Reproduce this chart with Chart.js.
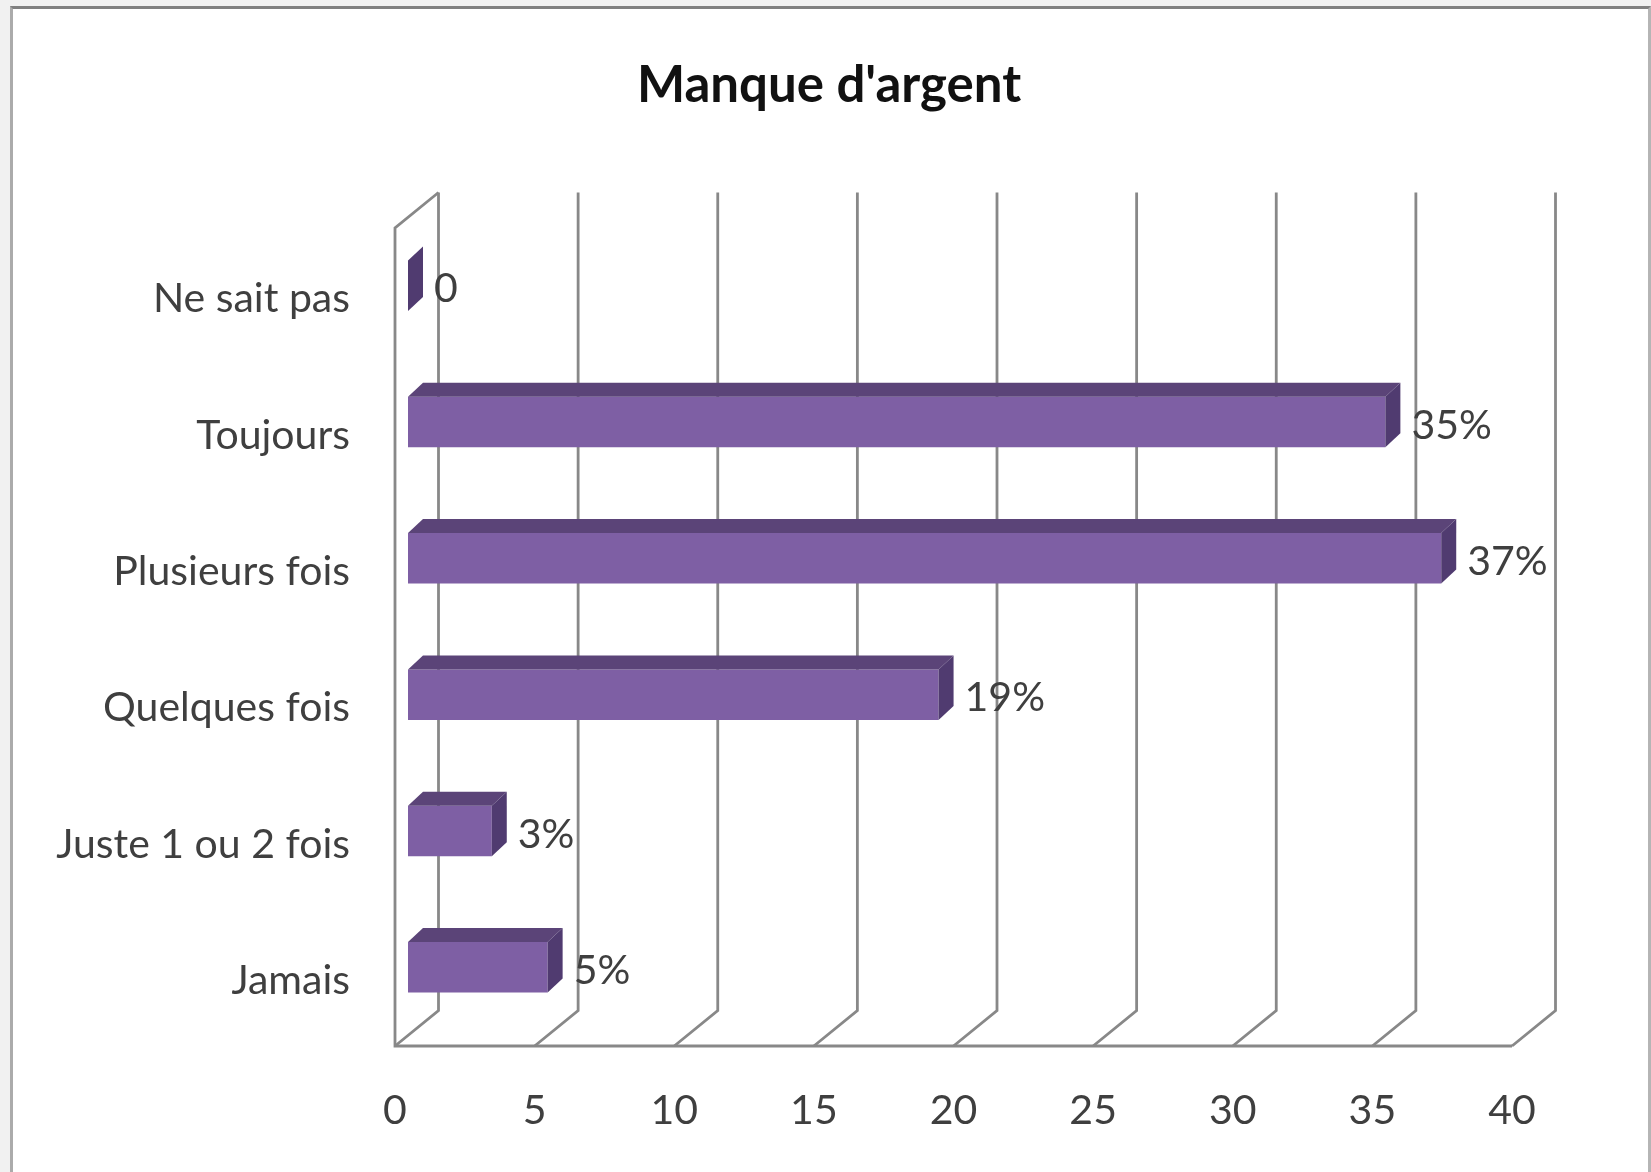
<!DOCTYPE html>
<html>
<head>
<meta charset="utf-8">
<title>Manque d'argent</title>
<script src="https://cdn.jsdelivr.net/npm/chart.js@4"></script>
<style>
  html, body { margin: 0; padding: 0; background: #f1f1f1; overflow: hidden; }
  #frame {
    position: absolute; left: 10px; top: 6px; width: 1635px; height: 1172px;
    background: #fff;
    border-top: 3px solid #808080;
    border-left: 3px solid #ababab;
    border-right: 3px solid #b5b5b5;
  }
  #chart { position: absolute; left: 0; top: 0; filter: blur(0.7px); }
</style>
</head>
<body>
<div id="frame"></div>
<canvas id="chart" width="1651" height="1172"></canvas>
<script>
const categories = ["Ne sait pas", "Toujours", "Plusieurs fois", "Quelques fois", "Juste 1 ou 2 fois", "Jamais"];
const values = [0, 35, 37, 19, 3, 5];
const valueLabels = ["0", "35%", "37%", "19%", "3%", "5%"];
const xTickMax = 40;
const xTickStep = 5;

const FONT = "Lato, 'Open Sans', sans-serif";
const TEXT = "#3f3f3f";
const WALL = "#888888";
// 3d look: wall depth and how far the bars sit inside it
const wallDx = 43.5, wallDy = 35.5;
const barDx = 13, barDy = 10.5;
const faceDx = 15, faceDy = 14;

function line(ctx, pts) {
  ctx.beginPath();
  pts.forEach((p, i) => i ? ctx.lineTo(p[0], p[1]) : ctx.moveTo(p[0], p[1]));
  ctx.stroke();
}

function poly(ctx, pts, color) {
  ctx.fillStyle = color;
  ctx.beginPath();
  pts.forEach((p, i) => i ? ctx.lineTo(p[0], p[1]) : ctx.moveTo(p[0], p[1]));
  ctx.closePath();
  ctx.fill();
}

const bars3d = {
  id: "bars3d",
  beforeDatasetsDraw(chart) {
    const ctx = chart.ctx;
    const area = chart.chartArea;
    const x = chart.scales.x;
    ctx.save();
    ctx.strokeStyle = WALL;
    ctx.lineWidth = 2.8;
    ctx.lineJoin = "miter";
    // side wall
    line(ctx, [[area.left + wallDx, area.top - wallDy], [area.left, area.top], [area.left, area.bottom], [area.right, area.bottom]]);
    // grid lines on the back wall and floor
    x.ticks.forEach(t => {
      const px = x.getPixelForValue(t.value);
      line(ctx, [[px + wallDx, area.top - wallDy], [px + wallDx, area.bottom - wallDy], [px, area.bottom]]);
    });
    ctx.restore();
    ctx.save();
    ctx.translate(barDx, -barDy);
  },
  afterDatasetsDraw(chart) {
    const ctx = chart.ctx;
    const bars = chart.getDatasetMeta(0).data;
    bars.forEach(b => {
      const top = b.y - b.height / 2, bottom = b.y + b.height / 2;
      poly(ctx, [[b.base, top], [b.base + faceDx, top - faceDy], [b.x + faceDx, top - faceDy], [b.x, top]], "#5b4478");
      poly(ctx, [[b.x, top], [b.x + faceDx, top - faceDy], [b.x + faceDx, bottom - faceDy], [b.x, bottom]], "#503b70");
    });
    ctx.restore();
    ctx.save();
    ctx.font = "41px " + FONT;
    ctx.fillStyle = TEXT;
    ctx.textAlign = "left";
    ctx.textBaseline = "middle";
    bars.forEach((b, i) => {
      ctx.fillText(valueLabels[i], b.x + barDx + faceDx + 11, b.y - 7);
    });
    ctx.restore();
  }
};

new Chart(document.getElementById("chart"), {
  type: "bar",
  data: {
    labels: categories,
    datasets: [{
      data: values,
      backgroundColor: "#7e5fa4",
      borderWidth: 0,
      barPercentage: 0.37,
      categoryPercentage: 1,
      clip: false
    }]
  },
  plugins: [bars3d],
  options: {
    indexAxis: "y",
    responsive: false,
    animation: false,
    layout: { padding: { left: 7, right: 0, top: 0, bottom: 0 } },
    plugins: {
      legend: { display: false },
      tooltip: { enabled: false },
      title: {
        display: true,
        text: "Manque d'argent",
        color: "#111",
        font: { family: FONT, size: 51, weight: "bold" },
        padding: { top: 55.4, bottom: 111.4 }
      }
    },
    scales: {
      x: {
        min: 0,
        max: xTickMax,
        grid: { display: false },
        border: { display: false },
        ticks: {
          stepSize: xTickStep,
          maxRotation: 0,
          padding: 32,
          color: TEXT,
          font: { family: FONT, size: 41 }
        },
        afterFit(scale) { scale.height = 126; }
      },
      y: {
        grid: { display: false, drawTicks: false },
        border: { display: false },
        ticks: {
          autoSkip: false,
          padding: 45,
          labelOffset: 3,
          color: TEXT,
          font: { family: FONT, size: 41 }
        },
        afterFit(scale) { scale.width = 388; }
      },
      // empty axis, only keeps the room right of the plot
      spacer: {
        type: "linear",
        position: "right",
        grid: { display: false },
        border: { display: false },
        ticks: { display: false },
        afterFit(scale) { scale.width = 139; }
      }
    }
  }
});
</script>
</body>
</html>
